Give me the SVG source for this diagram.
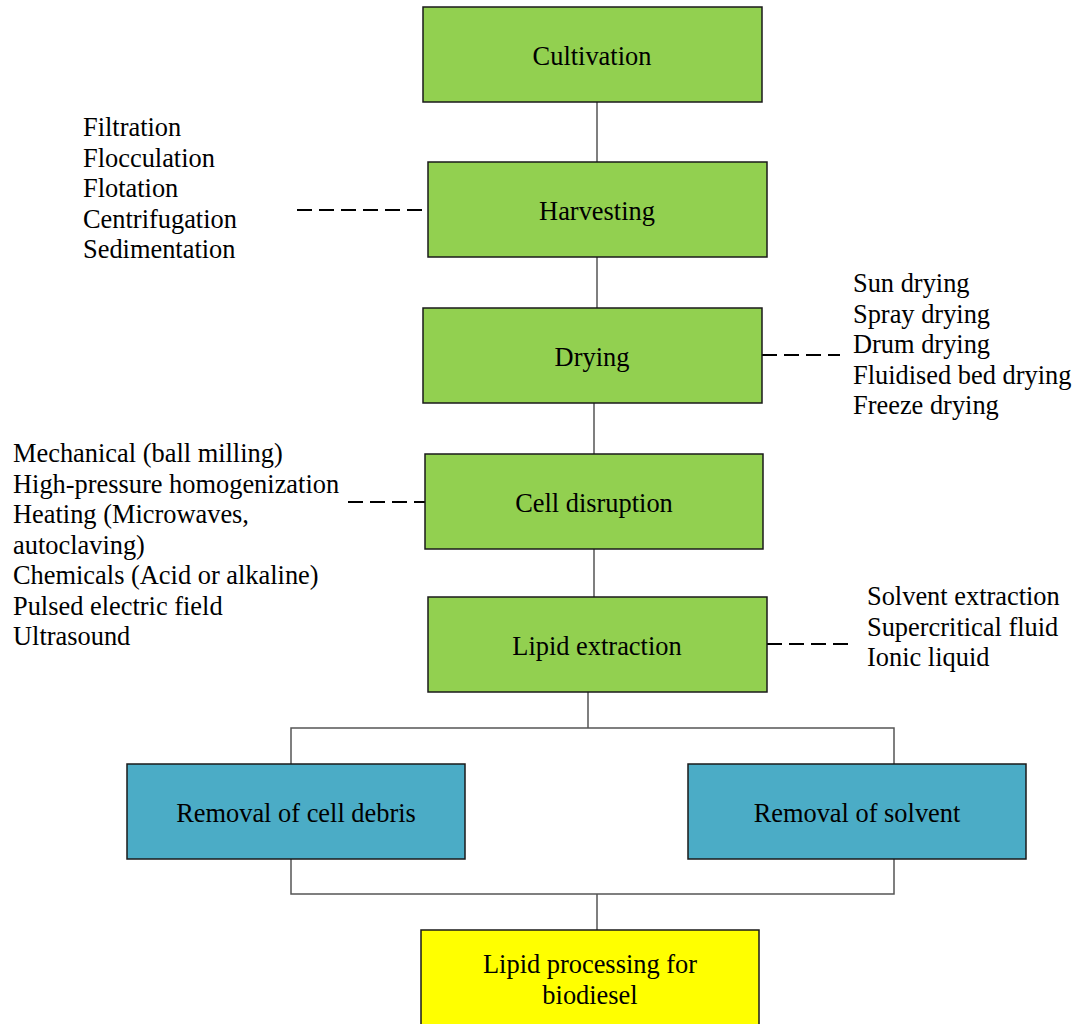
<svg xmlns="http://www.w3.org/2000/svg" width="1078" height="1024" viewBox="0 0 1078 1024" font-family="Liberation Serif, serif">
<style>
text{font-family:"Liberation Serif",serif;font-size:26.4px;fill:#000}
.c{text-anchor:middle}
.g{fill:#92D050;stroke:#1a1a1a;stroke-width:1.5}
.b{fill:#4BACC6;stroke:#1a1a1a;stroke-width:1.5}
.y{fill:#FFFF00;stroke:#1a1a1a;stroke-width:1.5}
.ln{fill:none;stroke:#555;stroke-width:1.5}
.d{fill:none;stroke:#000;stroke-width:2;stroke-dasharray:15 7}
</style>
<rect width="1078" height="1024" fill="#fff"/>
<g id="connectors">
<line class="ln" x1="597" y1="102" x2="597" y2="162"/>
<line class="ln" x1="597" y1="257" x2="597" y2="308"/>
<line class="ln" x1="594" y1="403" x2="594" y2="454"/>
<line class="ln" x1="594" y1="549" x2="594" y2="597"/>
<polyline class="ln" points="588,692 588,728"/>
<polyline class="ln" points="291,764 291,728 894,728 894,764"/>
<polyline class="ln" points="291,859 291,894 894,894 894,859"/>
<line class="ln" x1="597" y1="894" x2="597" y2="930"/>
<line class="d" x1="297" y1="210" x2="428" y2="210"/>
<line class="d" x1="762" y1="355" x2="840" y2="355"/>
<line class="d" x1="348" y1="502" x2="425" y2="502"/>
<line class="d" x1="767" y1="644" x2="848" y2="644"/>
</g>
<g id="cultivation"><rect class="g" x="423" y="7" width="339" height="95"/><text class="c" x="592" y="65">Cultivation</text></g>
<g id="harvesting"><rect class="g" x="428" y="162" width="339" height="95"/><text class="c" x="597" y="220">Harvesting</text></g>
<g id="drying"><rect class="g" x="423" y="308" width="339" height="95"/><text class="c" x="592" y="366">Drying</text></g>
<g id="cell-disruption"><rect class="g" x="425" y="454" width="338" height="95"/><text class="c" x="594" y="512">Cell disruption</text></g>
<g id="lipid-extraction"><rect class="g" x="428" y="597" width="339" height="95"/><text class="c" x="597" y="655">Lipid extraction</text></g>
<g id="removal-debris"><rect class="b" x="127" y="764" width="338" height="95"/><text class="c" x="296" y="822">Removal of cell debris</text></g>
<g id="removal-solvent"><rect class="b" x="688" y="764" width="338" height="95"/><text class="c" x="857" y="822">Removal of solvent</text></g>
<g id="lipid-processing"><rect class="y" x="421" y="930" width="338" height="100"/><text class="c" x="590" y="973">Lipid processing for</text><text class="c" x="590" y="1004">biodiesel</text></g>
<g id="harvesting-methods">
<text x="83" y="136">Filtration</text>
<text x="83" y="166.5">Flocculation</text>
<text x="83" y="197">Flotation</text>
<text x="83" y="227.5">Centrifugation</text>
<text x="83" y="258">Sedimentation</text>
</g>
<g id="drying-methods">
<text x="853" y="292">Sun drying</text>
<text x="853" y="322.5">Spray drying</text>
<text x="853" y="353">Drum drying</text>
<text x="853" y="383.5">Fluidised bed drying</text>
<text x="853" y="414">Freeze drying</text>
</g>
<g id="disruption-methods">
<text x="13" y="462">Mechanical (ball milling)</text>
<text x="13" y="492.5">High-pressure homogenization</text>
<text x="13" y="523">Heating (Microwaves,</text>
<text x="13" y="553.5">autoclaving)</text>
<text x="13" y="584">Chemicals (Acid or alkaline)</text>
<text x="13" y="614.5">Pulsed electric field</text>
<text x="13" y="645">Ultrasound</text>
</g>
<g id="extraction-methods">
<text x="867" y="605">Solvent extraction</text>
<text x="867" y="635.5">Supercritical fluid</text>
<text x="867" y="666">Ionic liquid</text>
</g>
</svg>
